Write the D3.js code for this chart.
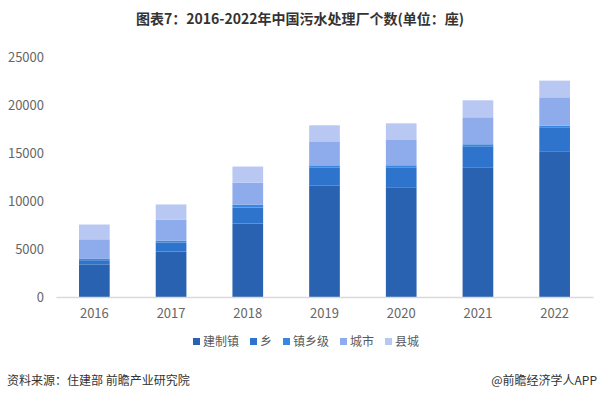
<!DOCTYPE html>
<html>
<head>
<meta charset="utf-8">
<script src="https://cdn.jsdelivr.net/npm/d3@7"></script>
<style>
  body { margin: 0; background: #fff; }
  svg { font-family: "Noto Sans CJK SC", "Liberation Sans", sans-serif; }
</style>
</head>
<body>
<svg id="chart" width="599" height="399"></svg>
<script>
// data
var years = ["2016", "2017", "2018", "2019", "2020", "2021", "2022"];
var seriesNames = ["建制镇", "乡", "镇乡级", "城市", "县城"];
var jianzhizhen = [3400, 4740, 7650, 11630, 11430, 13510, 15180];
var xiang = [430, 940, 1670, 1875, 2080, 2190, 2500];
var zhenxiangji = [140, 200, 310, 210, 210, 210, 170];
var chengshi = [2040, 2190, 2290, 2500, 2700, 2810, 2950];
var xiancheng = [1540, 1570, 1670, 1670, 1670, 1770, 1740];
var yTicks = [0, 5000, 10000, 15000, 20000, 25000];

var colors = ["#2862b0", "#2f74cc", "#3a86e0", "#8eacec", "#b8c8f2"];

var svg = d3.select("#chart");
var margin = {left: 56, right: 6, top: 57, bottom: 102};
var width = 599 - margin.left - margin.right,
    height = 399 - margin.top - margin.bottom;

var rows = years.map(function (y, i) {
    return {year: y, "建制镇": jianzhizhen[i], "乡": xiang[i], "镇乡级": zhenxiangji[i],
            "城市": chengshi[i], "县城": xiancheng[i]};
});
var stacked = d3.stack().keys(seriesNames)(rows);

var x = d3.scaleBand().domain(years).range([0, width]).paddingInner(0.6).paddingOuter(0.3);
var y = d3.scaleLinear().domain([0, 25000]).range([height, 0]);

// title
svg.append("text")
    .attr("x", 300).attr("y", 24)
    .attr("text-anchor", "middle")
    .attr("font-size", 14).attr("font-weight", "bold")
    .attr("fill", "#333")
    .text("图表7：2016-2022年中国污水处理厂个数(单位：座)");

var g = svg.append("g").attr("transform", "translate(" + margin.left + "," + margin.top + ")");

// y axis labels only
g.selectAll(".ytick").data(yTicks).enter().append("text")
    .attr("x", -12).attr("y", function (d) { return y(d); })
    .attr("dy", "0.35em")
    .attr("text-anchor", "end")
    .attr("font-size", 13).attr("fill", "#666")
    .text(function (d) { return d; });

// bars
g.selectAll(".series").data(stacked).enter().append("g")
    .attr("fill", function (d, i) { return colors[i]; })
  .selectAll("rect").data(function (d) { return d; }).enter().append("rect")
    .attr("x", function (d) { return x(d.data.year); })
    .attr("width", x.bandwidth())
    .attr("y", function (d) { return y(d[1]); })
    .attr("height", function (d) { return y(d[0]) - y(d[1]); });

// x axis
var xAxis = g.append("g").attr("transform", "translate(0," + height + ")")
    .call(d3.axisBottom(x).tickSize(0).tickPadding(12));
xAxis.select(".domain").attr("stroke", "#d9d9d9").attr("stroke-width", 1.5);
xAxis.selectAll("text").attr("font-size", 13).attr("fill", "#666")
    .attr("font-family", "\"Noto Sans CJK SC\", sans-serif");

// legend
var legendX = [193, 250, 283, 340, 385];
var legend = svg.append("g").attr("transform", "translate(0,342)");
seriesNames.forEach(function (name, i) {
    legend.append("rect")
        .attr("x", legendX[i]).attr("y", -4).attr("width", 7).attr("height", 7)
        .attr("fill", colors[i]);
    legend.append("text")
        .attr("x", legendX[i] + 10).attr("y", 0).attr("dy", "0.35em")
        .attr("font-size", 12).attr("fill", "#595959")
        .text(name);
});

// footer
svg.append("text")
    .attr("x", 7).attr("y", 385)
    .attr("font-size", 12).attr("fill", "#333")
    .text("资料来源：住建部 前瞻产业研究院");
svg.append("text")
    .attr("x", 597).attr("y", 385)
    .attr("text-anchor", "end")
    .attr("font-size", 12).attr("fill", "#333")
    .text("@前瞻经济学人APP");
</script>
</body>
</html>
